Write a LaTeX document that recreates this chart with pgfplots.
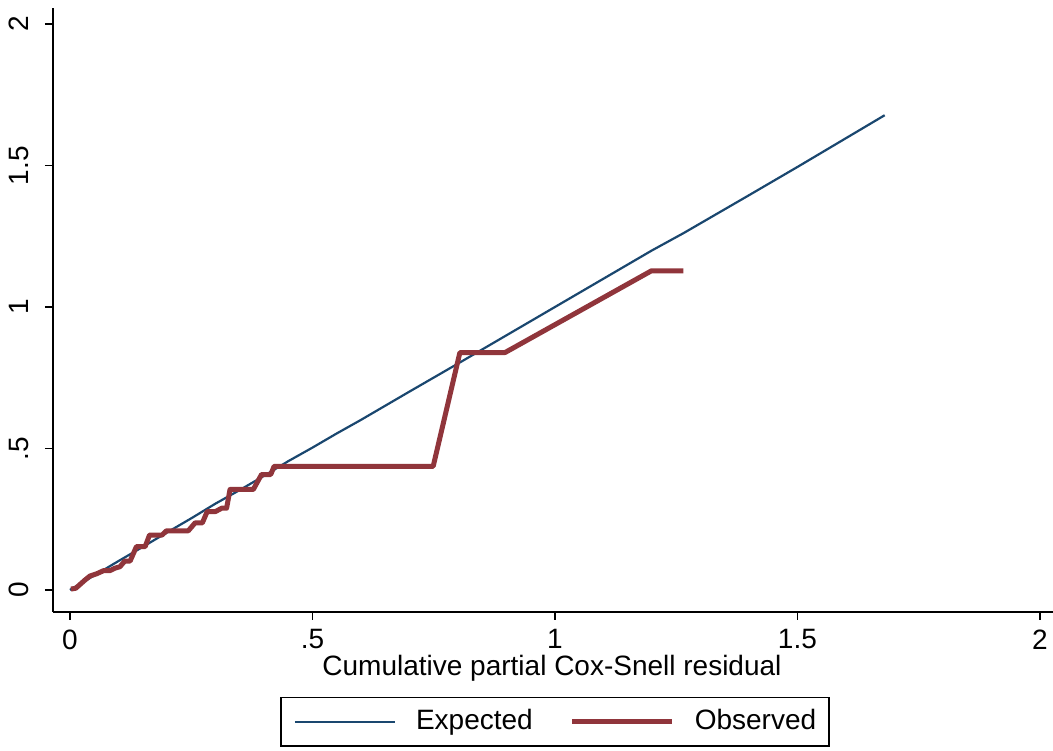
\documentclass[border=0pt]{standalone}
\usepackage{pgfplots}
\pgfplotsset{compat=1.18}
\usepackage{fontspec}
\setmainfont{Liberation Sans}
\definecolor{stblue}{RGB}{26,71,111}
\definecolor{stred}{RGB}{144,53,59}
\begin{document}
\fontsize{28}{34}\selectfont
\begin{tikzpicture}
\useasboundingbox (0,0) rectangle (1053pt,751pt);
\begin{axis}[
  at={(53pt,139pt)}, anchor=south west,
  scale only axis, width=1000pt, height=604pt,
  xmin=-0.035, xmax=2.027, ymin=-0.078, ymax=2.057,
  axis lines*=left,
  axis line style={line width=1.8pt, black, -},
  tick align=outside, major tick length=8pt,
  tick style={line width=1.8pt, black},
  xtick={0,0.5,1,1.5,2}, xticklabels={0,.5,1,1.5,2},
  ytick={0,0.5,1,1.5,2}, yticklabels={0,.5,1,1.5,2},
  tick label style={font=\fontsize{28}{34}\selectfont},
  yticklabel style={rotate=90, anchor=south, inner ysep=16pt},
  xlabel={Cumulative partial Cox-Snell residual},
  xlabel style={at={(axis description cs:0.499,-0.0927)}, anchor=center, font=\fontsize{28}{34}\selectfont},
  legend columns=2,
  legend style={at={(0.502,-0.1407)}, anchor=north, draw=black, line width=1.4pt,
    font=\fontsize{28}{34}\selectfont,
    inner xsep=13pt, inner ysep=11pt,
    nodes={inner xsep=0pt, inner ysep=1pt},
    /tikz/every odd column/.append style={column sep=20pt},
    /tikz/every even column/.append style={column sep=37pt}},
  legend image code/.code={\draw[#1] (0pt,0pt) -- (100pt,0pt);},
]
\addplot[color=stblue, line width=2.2pt, line join=round] coordinates {
 (0,0) (0.05,0.051) (0.1,0.102) (0.15,0.152) (0.2,0.203) (0.25,0.253)
 (0.3,0.305) (0.35,0.353) (0.4,0.403) (0.45,0.455) (0.5,0.503) (0.55,0.553)
 (0.6,0.601) (0.7,0.701) (0.8,0.8) (0.9,0.9) (1.0,1.0) (1.1,1.1) (1.2,1.2)
 (1.265,1.261) (1.4,1.395) (1.5,1.495) (1.68,1.678)
};
\addlegendentry{Expected}
\addplot[color=stred, line width=5pt, line join=round] coordinates {
 (0.002,0.003) (0.012,0.006) (0.031,0.035) (0.041,0.049) (0.055,0.057)
 (0.069,0.068) (0.082,0.068) (0.093,0.077) (0.103,0.082) (0.113,0.102)
 (0.124,0.102) (0.137,0.153) (0.155,0.153) (0.164,0.194) (0.190,0.194)
 (0.199,0.209) (0.244,0.209) (0.258,0.237) (0.273,0.237) (0.283,0.277)
 (0.300,0.277) (0.313,0.289) (0.323,0.289) (0.330,0.355) (0.378,0.355)
 (0.395,0.408) (0.414,0.408) (0.421,0.437) (0.749,0.437) (0.804,0.839)
 (0.897,0.839) (1.199,1.128) (1.265,1.128)
};
\addlegendentry{Observed}
\end{axis}
\end{tikzpicture}
\end{document}
